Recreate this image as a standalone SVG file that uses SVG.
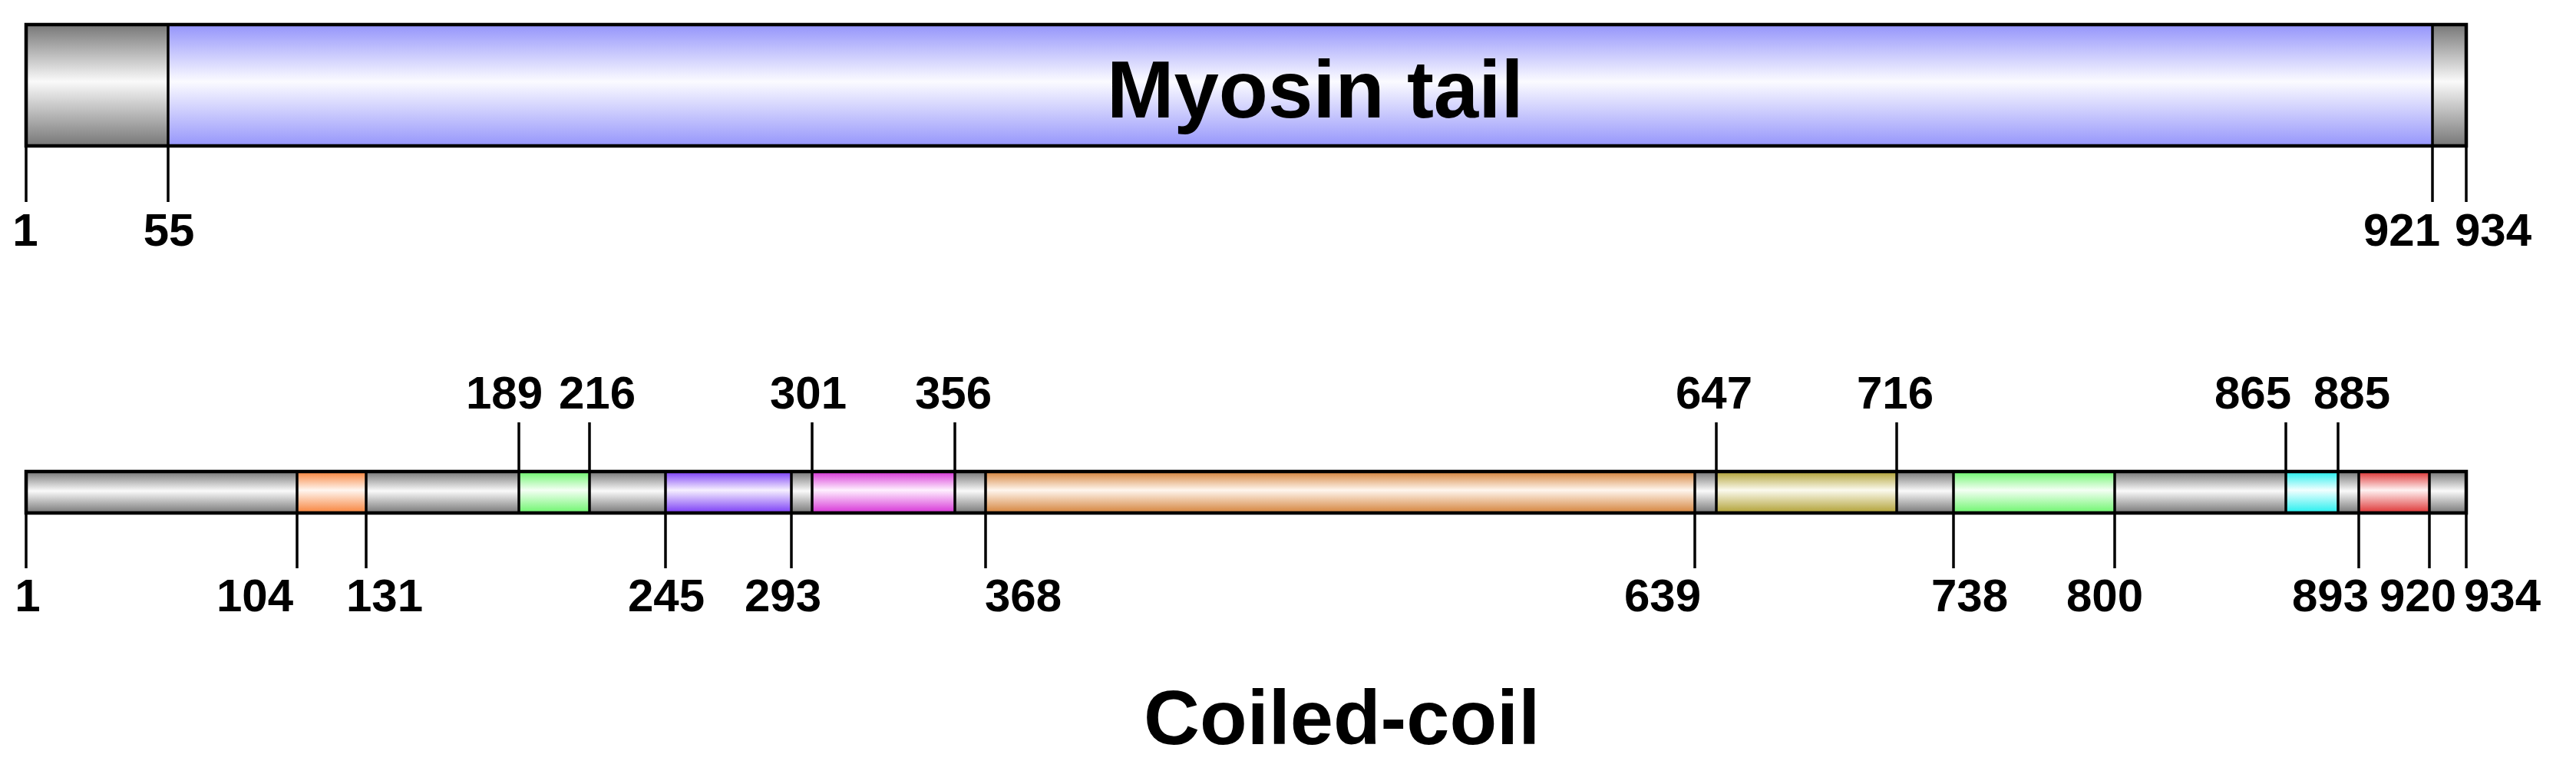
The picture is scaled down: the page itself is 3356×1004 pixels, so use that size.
<svg xmlns="http://www.w3.org/2000/svg" width="3356" height="1004" viewBox="0 0 3356 1004">
<style>
.lbl{font-family:"Liberation Sans",Arial,sans-serif;font-weight:bold;font-size:60px;fill:#000;text-anchor:middle}
.title{font-family:"Liberation Sans",Arial,sans-serif;font-weight:bold;fill:#000}
.tick{stroke:#000;stroke-width:3.5;fill:none}
.div{stroke:#000;stroke-width:3.5}
.frame{fill:none;stroke:#000;stroke-width:4.5}
</style>
<defs>
<linearGradient id="gGray" x1="0" y1="0" x2="0" y2="1"><stop offset="0" stop-color="#777"/><stop offset="0.47" stop-color="#fafafa"/><stop offset="1" stop-color="#777"/></linearGradient>
<linearGradient id="gBlue" x1="0" y1="0" x2="0" y2="1"><stop offset="0" stop-color="#9494fb"/><stop offset="0.47" stop-color="#fbfbff"/><stop offset="1" stop-color="#9696fb"/></linearGradient>
<linearGradient id="gOrange" x1="0" y1="0" x2="0" y2="1"><stop offset="0" stop-color="#f7823a"/><stop offset="0.45" stop-color="#fff6f0"/><stop offset="1" stop-color="#f7823a"/></linearGradient>
<linearGradient id="gGreen" x1="0" y1="0" x2="0" y2="1"><stop offset="0" stop-color="#6cf56c"/><stop offset="0.45" stop-color="#f4fff4"/><stop offset="1" stop-color="#6cf56c"/></linearGradient>
<linearGradient id="gPurple" x1="0" y1="0" x2="0" y2="1"><stop offset="0" stop-color="#7a3cf5"/><stop offset="0.45" stop-color="#f6f0ff"/><stop offset="1" stop-color="#7a3cf5"/></linearGradient>
<linearGradient id="gMagenta" x1="0" y1="0" x2="0" y2="1"><stop offset="0" stop-color="#d633d6"/><stop offset="0.45" stop-color="#fff0ff"/><stop offset="1" stop-color="#d633d6"/></linearGradient>
<linearGradient id="gTan" x1="0" y1="0" x2="0" y2="1"><stop offset="0" stop-color="#d4823a"/><stop offset="0.45" stop-color="#fff6ee"/><stop offset="1" stop-color="#d4823a"/></linearGradient>
<linearGradient id="gOlive" x1="0" y1="0" x2="0" y2="1"><stop offset="0" stop-color="#b0a033"/><stop offset="0.45" stop-color="#fbfaee"/><stop offset="1" stop-color="#b0a033"/></linearGradient>
<linearGradient id="gCyan" x1="0" y1="0" x2="0" y2="1"><stop offset="0" stop-color="#22eeee"/><stop offset="0.45" stop-color="#f2ffff"/><stop offset="1" stop-color="#22eeee"/></linearGradient>
<linearGradient id="gRed" x1="0" y1="0" x2="0" y2="1"><stop offset="0" stop-color="#dd3333"/><stop offset="0.45" stop-color="#fff2f2"/><stop offset="1" stop-color="#dd3333"/></linearGradient>
</defs>
<rect width="3356" height="1004" fill="#fff"/>

<g id="top-protein">
  <g id="top-seg-1-55"><rect x="34" y="32" width="185" height="158" fill="url(#gGray)"/></g>
  <g id="top-seg-myosin-tail"><rect x="219" y="32" width="2950" height="158" fill="url(#gBlue)"/>
    <text class="title" x="1442" y="153" font-size="105">Myosin tail</text></g>
  <g id="top-seg-921-934"><rect x="3169" y="32" width="44" height="158" fill="url(#gGray)"/></g>
  <line class="div" x1="219" y1="32" x2="219" y2="190"/>
  <line class="div" x1="3169" y1="32" x2="3169" y2="190"/>
  <rect class="frame" x="34" y="32" width="3179" height="158"/>
</g>

<g id="bottom-protein">
  <g id="seg-1-104"><rect x="34" y="614" width="353" height="54" fill="url(#gGray)"/></g>
  <g id="seg-104-131"><rect x="387" y="614" width="90" height="54" fill="url(#gOrange)"/></g>
  <g id="seg-131-189"><rect x="477" y="614" width="199" height="54" fill="url(#gGray)"/></g>
  <g id="seg-189-216"><rect x="676" y="614" width="92" height="54" fill="url(#gGreen)"/></g>
  <g id="seg-216-245"><rect x="768" y="614" width="99" height="54" fill="url(#gGray)"/></g>
  <g id="seg-245-293"><rect x="867" y="614" width="164" height="54" fill="url(#gPurple)"/></g>
  <g id="seg-293-301"><rect x="1031" y="614" width="27" height="54" fill="url(#gGray)"/></g>
  <g id="seg-301-356"><rect x="1058" y="614" width="186" height="54" fill="url(#gMagenta)"/></g>
  <g id="seg-356-368"><rect x="1244" y="614" width="40" height="54" fill="url(#gGray)"/></g>
  <g id="seg-368-639"><rect x="1284" y="614" width="924" height="54" fill="url(#gTan)"/></g>
  <g id="seg-639-647"><rect x="2208" y="614" width="28" height="54" fill="url(#gGray)"/></g>
  <g id="seg-647-716"><rect x="2236" y="614" width="235" height="54" fill="url(#gOlive)"/></g>
  <g id="seg-716-738"><rect x="2471" y="614" width="74" height="54" fill="url(#gGray)"/></g>
  <g id="seg-738-800"><rect x="2545" y="614" width="210" height="54" fill="url(#gGreen)"/></g>
  <g id="seg-800-865"><rect x="2755" y="614" width="223" height="54" fill="url(#gGray)"/></g>
  <g id="seg-865-885"><rect x="2978" y="614" width="68" height="54" fill="url(#gCyan)"/></g>
  <g id="seg-885-893"><rect x="3046" y="614" width="27" height="54" fill="url(#gGray)"/></g>
  <g id="seg-893-920"><rect x="3073" y="614" width="92" height="54" fill="url(#gRed)"/></g>
  <g id="seg-920-934"><rect x="3165" y="614" width="48" height="54" fill="url(#gGray)"/></g>
  <g id="dividers">
    <line class="div" x1="387" y1="614" x2="387" y2="668"/>
    <line class="div" x1="477" y1="614" x2="477" y2="668"/>
    <line class="div" x1="676" y1="614" x2="676" y2="668"/>
    <line class="div" x1="768" y1="614" x2="768" y2="668"/>
    <line class="div" x1="867" y1="614" x2="867" y2="668"/>
    <line class="div" x1="1031" y1="614" x2="1031" y2="668"/>
    <line class="div" x1="1058" y1="614" x2="1058" y2="668"/>
    <line class="div" x1="1244" y1="614" x2="1244" y2="668"/>
    <line class="div" x1="1284" y1="614" x2="1284" y2="668"/>
    <line class="div" x1="2208" y1="614" x2="2208" y2="668"/>
    <line class="div" x1="2236" y1="614" x2="2236" y2="668"/>
    <line class="div" x1="2471" y1="614" x2="2471" y2="668"/>
    <line class="div" x1="2545" y1="614" x2="2545" y2="668"/>
    <line class="div" x1="2755" y1="614" x2="2755" y2="668"/>
    <line class="div" x1="2978" y1="614" x2="2978" y2="668"/>
    <line class="div" x1="3046" y1="614" x2="3046" y2="668"/>
    <line class="div" x1="3073" y1="614" x2="3073" y2="668"/>
    <line class="div" x1="3165" y1="614" x2="3165" y2="668"/>
  </g>
  <rect class="frame" x="34" y="614" width="3179" height="54"/>
</g>

<g id="connectors">
  <line class="tick" x1="34" y1="190" x2="34" y2="263"/>
  <line class="tick" x1="219" y1="190" x2="219" y2="263"/>
  <line class="tick" x1="3169" y1="190" x2="3169" y2="263"/>
  <line class="tick" x1="3213" y1="190" x2="3213" y2="263"/>

  <line class="tick" x1="676" y1="550" x2="676" y2="614"/>
  <line class="tick" x1="768" y1="550" x2="768" y2="614"/>
  <line class="tick" x1="1058" y1="550" x2="1058" y2="614"/>
  <line class="tick" x1="1244" y1="550" x2="1244" y2="614"/>
  <line class="tick" x1="2236" y1="550" x2="2236" y2="614"/>
  <line class="tick" x1="2471" y1="550" x2="2471" y2="614"/>
  <line class="tick" x1="2978" y1="550" x2="2978" y2="614"/>
  <line class="tick" x1="3046" y1="550" x2="3046" y2="614"/>

  <line class="tick" x1="34" y1="668" x2="34" y2="740"/>
  <line class="tick" x1="387" y1="668" x2="387" y2="740"/>
  <line class="tick" x1="477" y1="668" x2="477" y2="740"/>
  <line class="tick" x1="867" y1="668" x2="867" y2="740"/>
  <line class="tick" x1="1031" y1="668" x2="1031" y2="740"/>
  <line class="tick" x1="1284" y1="668" x2="1284" y2="740"/>
  <line class="tick" x1="2208" y1="668" x2="2208" y2="740"/>
  <line class="tick" x1="2545" y1="668" x2="2545" y2="740"/>
  <line class="tick" x1="2755" y1="668" x2="2755" y2="740"/>
  <line class="tick" x1="3073" y1="668" x2="3073" y2="740"/>
  <line class="tick" x1="3165" y1="668" x2="3165" y2="740"/>
  <line class="tick" x1="3213" y1="668" x2="3213" y2="740"/>
</g>

<g id="labels">
  <text class="lbl" x="33" y="320" font-size="62">1</text>
  <text class="lbl" x="220" y="320" font-size="62">55</text>
  <text class="lbl" x="3129" y="320" font-size="62">921</text>
  <text class="lbl" x="3248" y="320" font-size="62">934</text>

  <text class="lbl" x="657" y="532">189</text>
  <text class="lbl" x="778" y="532">216</text>
  <text class="lbl" x="1053" y="532">301</text>
  <text class="lbl" x="1242" y="532">356</text>
  <text class="lbl" x="2233" y="532">647</text>
  <text class="lbl" x="2469" y="532">716</text>
  <text class="lbl" x="2935" y="532">865</text>
  <text class="lbl" x="3064" y="532">885</text>

  <text class="lbl" x="36" y="796">1</text>
  <text class="lbl" x="332" y="796">104</text>
  <text class="lbl" x="501" y="796">131</text>
  <text class="lbl" x="868" y="796">245</text>
  <text class="lbl" x="1020" y="796">293</text>
  <text class="lbl" x="1333" y="796">368</text>
  <text class="lbl" x="2166" y="796">639</text>
  <text class="lbl" x="2566" y="796">738</text>
  <text class="lbl" x="2742" y="796">800</text>
  <text class="lbl" x="3036" y="796">893</text>
  <text class="lbl" x="3150" y="796">920</text>
  <text class="lbl" x="3260" y="796">934</text>

  <text class="title" x="1490" y="969" font-size="101">Coiled-coil</text>
</g>
</svg>
